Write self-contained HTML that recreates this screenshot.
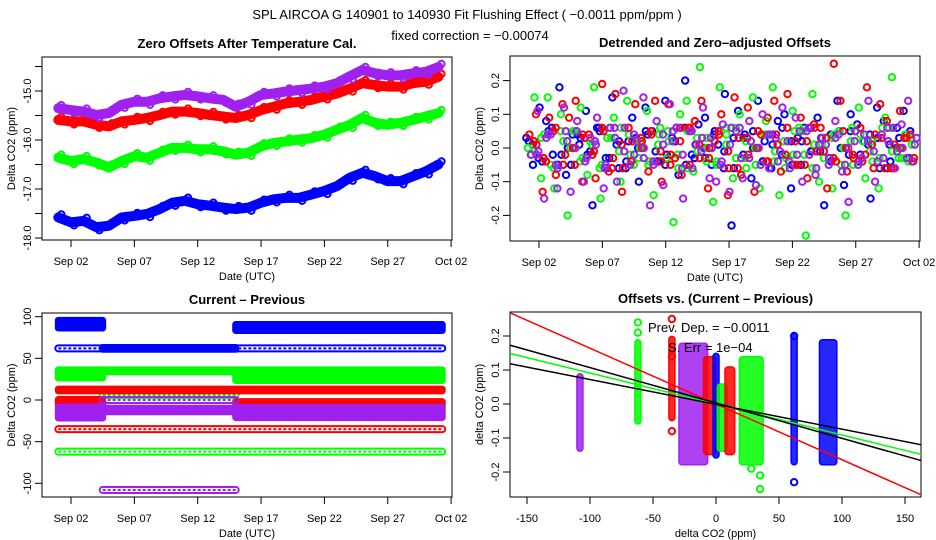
<!DOCTYPE html>
<html><head><meta charset="utf-8"><style>
body{margin:0;background:#fff;}
svg{display:block;font-family:"Liberation Sans",sans-serif;}
</style></head><body>
<svg id="chart" width="936" height="540" viewBox="0 0 936 540" xmlns="http://www.w3.org/2000/svg">
<text x="467" y="19" font-size="13" text-anchor="middle">SPL   AIRCOA G   140901 to 140930   Fit Flushing Effect ( −0.0011 ppm/ppm )</text>
<text x="470" y="40" font-size="13" text-anchor="middle">fixed correction = −0.00074</text>
</svg>
<script>
// ---------- DATA ----------
const seriesNames = ['blue','green','red','purple'];
const seriesColors = ['#0000ff','#00ff00','#ff0000','#a020f0'];
const dateTickDays = [2,7,12,17,22,27,32];
const dateTickLabels = ['Sep 02','Sep 07','Sep 12','Sep 17','Sep 22','Sep 27','Oct 02'];
// Panel 1: daily zero offsets (days 1..31)
const p1Days = [1,2,3,4,5,6,7,8,9,10,11,12,13,14,15,16,17,18,19,20,21,22,23,24,25,26,27,28,29,30,31];
const p1Blue = [-17.58,-17.68,-17.65,-17.78,-17.75,-17.58,-17.55,-17.51,-17.41,-17.28,-17.24,-17.31,-17.34,-17.38,-17.41,-17.38,-17.28,-17.21,-17.18,-17.18,-17.11,-17.04,-16.94,-16.77,-16.67,-16.74,-16.84,-16.84,-16.74,-16.64,-16.5];
const p1Green = [-16.36,-16.43,-16.39,-16.46,-16.56,-16.43,-16.33,-16.36,-16.26,-16.16,-16.16,-16.19,-16.19,-16.23,-16.30,-16.26,-16.13,-16.06,-16.03,-15.99,-15.96,-15.89,-15.79,-15.69,-15.55,-15.65,-15.69,-15.65,-15.59,-15.52,-15.45];
const p1Red = [-15.59,-15.62,-15.62,-15.69,-15.72,-15.62,-15.59,-15.55,-15.49,-15.42,-15.42,-15.45,-15.49,-15.52,-15.55,-15.49,-15.39,-15.32,-15.25,-15.22,-15.18,-15.11,-15.05,-14.95,-14.84,-14.88,-14.91,-14.91,-14.84,-14.81,-14.71];
const p1Purple = [-15.35,-15.39,-15.42,-15.49,-15.45,-15.28,-15.22,-15.22,-15.15,-15.11,-15.08,-15.11,-15.15,-15.18,-15.32,-15.22,-15.08,-15.05,-15.01,-14.98,-14.95,-14.91,-14.84,-14.70,-14.57,-14.64,-14.68,-14.68,-14.64,-14.61,-14.51];
const p1YTicks = [-14.5,-15,-15.5,-16,-16.5,-17,-17.5,-18];
const p1YLabels = ['','-15.0','','-16.0','','-17.0','','-18.0'];
// Panel 2: detrended residuals
const p2Blue = [0.03,-0.05,0.12,0.08,-0.02,0.18,-0.08,0.04,0.01,0.11,-0.17,0.06,-0.03,0.15,0.02,-0.06,0.09,-0.1,0.12,0.05,-0.04,0.14,0.03,-0.08,0.2,-0.02,0.07,0.09,-0.05,0.01,0.16,-0.23,0.11,0.04,-0.09,0.14,0.02,-0.06,0.08,0.1,-0.12,0.03,0.06,-0.01,0.09,-0.17,0.04,0.14,-0.11,0.1,0.07,0.02,-0.15,0.12,0.08,-0.04,0.06,0.11,0.05];
const p2Green = [0.0,0.15,-0.09,0.15,-0.12,0.1,-0.2,0.05,0.12,-0.08,0.18,-0.15,0.03,0.09,-0.1,0.14,-0.05,0.02,0.11,-0.14,0.06,-0.03,-0.22,0.1,0.14,-0.07,0.24,-0.04,-0.16,0.18,0.04,-0.09,0.1,-0.06,0.15,-0.12,0.08,0.18,-0.14,-0.03,0.11,0.06,-0.26,0.16,-0.1,0.03,-0.12,0.05,-0.2,0.06,0.12,-0.09,0.02,-0.12,0.09,0.21,-0.03,0.04,0.01];
const p2Red = [0.04,0.1,-0.13,0.09,-0.08,0.13,0.09,0.14,-0.1,0.04,-0.09,0.19,-0.07,0.16,-0.13,0.06,0.13,0.02,-0.07,0.14,-0.1,0.13,-0.03,-0.08,0.06,0.08,0.14,-0.12,0.02,0.1,-0.14,0.15,-0.08,0.12,-0.13,0.04,0.09,0.14,-0.07,0.16,-0.05,0.09,-0.09,0.07,0.06,-0.12,0.25,0.14,-0.07,-0.03,0.06,0.18,-0.06,0.13,0.08,-0.06,0.11,0.03,-0.04];
const p2Purple = [-0.02,0.11,-0.15,0.04,-0.12,0.12,-0.13,0.08,-0.1,0.03,0.09,-0.12,0.06,-0.1,0.17,-0.05,0.02,0.15,-0.17,0.08,-0.11,0.13,0.06,-0.15,0.05,0.01,0.12,-0.09,-0.1,0.07,-0.13,0.05,-0.09,0.08,-0.11,0.1,-0.06,0.03,0.12,-0.04,0.09,-0.1,0.06,-0.08,0.03,-0.05,0.08,-0.07,-0.16,0.05,-0.03,0.14,-0.1,0.04,0.02,-0.06,0.07,0.14,0.01];
const p2Core = [0.02,-0.03,0.05,-0.05,0.0,0.04,-0.02,0.06,-0.06,0.01,-0.04,0.03,0.05,-0.01,-0.05,0.02,0.06,-0.03,0.0,0.04,-0.06,0.03,-0.02,0.05,-0.04,0.01,0.06,-0.05,0.02,-0.01,0.03,-0.04,0.0,0.05,-0.02,0.04,-0.06,0.01,0.03,-0.03];
const p2Core2 = [-0.01,0.04,-0.06,0.02,0.05,-0.03,0.01,-0.05,0.03,0.06,-0.02,0.0,-0.04,0.04,0.02,-0.06,0.05,-0.01,0.03,-0.05,0.01,0.06,-0.03,0.0,0.04,-0.04,0.02,-0.02,0.05,-0.06,0.01,0.03,-0.05,0.02,0.04,-0.01,-0.03,0.06,0.0,-0.04];
const p2YTicks = [-0.2,-0.1,0,0.1,0.2];
const p2YLabels = ['-0.2','-0.1','0.0','0.1','0.2'];
// Panel 3: current - previous levels (segments)
const p3SegSeries = [0,0,0,0,1,1,1,1,1,2,2,2,2,3,3,3,3,3];
const p3SegStart  = [1,15.0,1,4.5,1,1,15.0,4.5,1,1,1,15.0,1,1,4.5,15.0,4.5,4.5];
const p3SegEnd    = [4.5,31.3,31.3,15.0,4.5,31.3,31.3,15.0,31.3,31.3,4.5,31.3,31.3,4.5,15.0,31.3,15.0,15.0];
const p3SegLevel  = [91,87,62,62,31,35,28,6,-62,12,-3,-5,-35,-15,-12,-15,0,-108];
const p3SegBand   = [8,6,0,1,8,1,8,0,0,1,6,5,0,12,3,11,0,0];
const p3YTicks = [-100,-50,0,50,100];
// Panel 4: offsets vs (current - previous) clusters
const p4ClusterSeries = [3,1,2,3,2,0,1,2,1,0,0];
const p4ClusterX  = [-108,-62,-35,-18,-5,0,5,11,28,62,89];
const p4ClusterW  = [0,0,0,18,5,0,3,3,14,0,9];
const p4ClusterLo = [-0.13,-0.05,-0.04,-0.17,-0.14,-0.15,-0.13,-0.14,-0.17,-0.17,-0.17];
const p4ClusterHi = [0.08,0.18,0.19,0.17,0.13,0.14,0.05,0.1,0.13,0.2,0.18];
const p4OutX = [-62,-62,-35,-35,35,35,28,62,62,-35];
const p4OutY = [0.21,0.24,0.25,-0.08,-0.25,-0.21,-0.19,-0.23,0.2,0.14];
const p4OutS = [1,1,2,2,1,1,1,0,0,2];
const p4XTicks = [-150,-100,-50,0,50,100,150];
const p4YTicks = [-0.2,-0.1,0,0.1,0.2];
const p4FitSlope = [-0.00164,-0.00091,-0.00104,-0.00073];
const p4FitIntercept = [0,0,0.003,-0.001];
const p4FitColor = ['#ff0000','#00ff00','#000000','#000000'];

// ---------- DRAW ----------
const svg = document.getElementById('chart');
const NS = 'http://www.w3.org/2000/svg';
function mk(tag, attrs, parent){const e=document.createElementNS(NS,tag);for(const k in attrs)e.setAttribute(k,attrs[k]);(parent||svg).appendChild(e);return e;}
function circ(g,x,y,c){const e=mk('circle',{cx:x,cy:y,r:3.2,fill:'none',stroke:c,'stroke-width':2},g);

return e;}

function panel(name,L,R,T,B,title,ylabel,xlabel){
  const g=mk('g',{});
  
  
  const r=mk('rect',{x:L,y:T,width:R-L,height:B-T,fill:'none',stroke:'#000','stroke-width':1},g);
  
  
  const t=mk('text',{x:(L+R)/2,y:T-9,'font-size':13,'font-weight':'bold','text-anchor':'middle'},g);t.textContent=title;
  
  
  const yl=mk('text',{x:0,y:0,'font-size':11,'text-anchor':'middle',transform:`translate(${L-27},${(T+B)/2}) rotate(-90)`},g);yl.textContent=ylabel;
  
  
  const xl=mk('text',{x:(L+R)/2,y:B+40,'font-size':11,'text-anchor':'middle'},g);xl.textContent=xlabel;
  
  
  return g;
}
function xAxis(g,ticks,labels,sx,B){
  ticks.forEach((v,i)=>{mk('line',{x1:sx(v),x2:sx(v),y1:B,y2:B+7,stroke:'#000'},g);
    const t=mk('text',{x:sx(v),y:B+25,'font-size':11,'text-anchor':'middle'},g);t.textContent=labels[i];
    
    });
}
function yAxis(g,ticks,labels,sy,L){
  ticks.forEach((v,i)=>{mk('line',{x1:L-7,x2:L,y1:sy(v),y2:sy(v),stroke:'#000'},g);
    if(labels[i]){const t=mk('text',{x:0,y:0,'font-size':11,'text-anchor':'middle',transform:`translate(${L-11},${sy(v)}) rotate(-90)`},g);t.textContent=labels[i];
    
    }});
}
function clip(g,id,L,R,T,B){const d=mk('clipPath',{id:id},g);mk('rect',{x:L,y:T,width:R-L,height:B-T},d);const c=mk('g',{'clip-path':`url(#${id})`},g);return c;}

// Panel 1
(function(){
  const L=42,R=452,T=57,B=240;
  const g=panel('zero-offsets-panel',L,R,T,B,'Zero Offsets After Temperature Cal.','Delta CO2 (ppm)','Date (UTC)');
  const sx=d=>71+(d-2)*12.67, sy=v=>91+(-15-v)*49;
  xAxis(g,dateTickDays,dateTickLabels,sx,B);
  yAxis(g,p1YTicks,p1YLabels,sy,L);
  [p1Blue,p1Green,p1Red,p1Purple].forEach((arr,si)=>{
    const c=seriesColors[si];
    const s=mk('g',{},g);
    
    
    mk('polyline',{points:arr.map((v,i)=>sx(p1Days[i])+','+sy(v)).join(' '),fill:'none',stroke:c,'stroke-width':10,'stroke-linejoin':'round','stroke-linecap':'round'},s);
    arr.forEach((v,i)=>{circ(s,sx(p1Days[i])+3,sy(v)+(i%2?3:-3),c);});
  });
})();

// Panel 2
(function(){
  const L=510,R=920,T=56,B=241;
  const g=panel('detrended-offsets-panel',L,R,T,B,'Detrended and Zero\u2013adjusted Offsets','Delta CO2 (ppm)','Date (UTC)');
  const sx=d=>539+(d-2)*12.67, sy=v=>148-v*337;
  xAxis(g,dateTickDays,dateTickLabels,sx,B);
  yAxis(g,p2YTicks,p2YLabels,sy,L);
  [p2Blue,p2Green,p2Red,p2Purple].forEach((arr,si)=>{
    const s=mk('g',{},g);
    
    
    const n=arr.length;
    const m=p2Core.length;
    p2Core.forEach((v,i)=>{circ(s,sx(1.2+i*30/(m-1)+si*0.2),sy(v*(si%2?-1:1)),seriesColors[si]);});
    p2Core2.forEach((v,i)=>{circ(s,sx(1.5+i*29.5/(m-1)+si*0.15),sy(v*(si%2?1:-1)),seriesColors[si]);});
    arr.forEach((v,i)=>{circ(s,sx(1+i*30.3/(n-1)+si*0.12),sy(v),seriesColors[si]);});
  });
})();

// Panel 3
(function(){
  const L=42,R=452,T=313,B=497;
  const g=panel('current-minus-previous-panel',L,R,T,B,'Current \u2013 Previous','Delta CO2 (ppm)','Date (UTC)');
  const sx=d=>71+(d-2)*12.67, sy=v=>400-v*0.833;
  xAxis(g,dateTickDays,dateTickLabels,sx,B);
  yAxis(g,p3YTicks,p3YTicks.map(String),sy,L);
  p3SegSeries.forEach((si,k)=>{
    const c=seriesColors[si];
    const s=mk('g',{},g);
    
    
    const x0=sx(p3SegStart[k]),x1=sx(p3SegEnd[k]),y=sy(p3SegLevel[k]),h=p3SegBand[k]*0.833;
    if(h>0){
      mk('rect',{x:x0-3,y:y-3.5-h/2,width:x1-x0+6,height:7+h,rx:3,fill:c,stroke:c,'stroke-width':1},s);
    } else {
      mk('rect',{x:x0-3,y:y-3,width:x1-x0+6,height:6,rx:3,fill:'none',stroke:c,'stroke-width':2},s);
      mk('line',{x1:x0,x2:x1,y1:y,y2:y,stroke:c,'stroke-width':2,'stroke-dasharray':'3 2'},s);
    }
  });
})();

// Panel 4
(function(){
  const L=510,R=921,T=312,B=497;
  const g=panel('offsets-vs-difference-panel',L,R,T,B,'Offsets vs. (Current \u2013 Previous)','delta CO2 (ppm)','delta CO2 (ppm)');
  const sx=v=>716+v*1.26, sy=v=>404-v*340;
  xAxis(g,p4XTicks,p4XTicks.map(String),sx,B);
  yAxis(g,p4YTicks,['-0.2','-0.1','0.0','0.1','0.2'],sy,L);
  p4ClusterX.forEach((xv,k)=>{
    const si=p4ClusterSeries[k],c=seriesColors[si];
    const s=mk('g',{},g);
    
    
    const x0=sx(xv-p4ClusterW[k]/2),x1=sx(xv+p4ClusterW[k]/2);
    mk('rect',{x:x0-3,y:sy(p4ClusterHi[k])-3,width:x1-x0+6,height:sy(p4ClusterLo[k])-sy(p4ClusterHi[k])+6,rx:3,fill:c,'fill-opacity':0.85,stroke:c,'stroke-width':1.5},s);
  });
  p4OutX.forEach((xv,k)=>circ(g,sx(xv),sy(p4OutY[k]),seriesColors[p4OutS[k]]));
  const c=clip(g,'p4clip',L,R,T,B);
  p4FitSlope.forEach((m,k)=>{
    const ln=mk('line',{x1:sx(-170),y1:sy(p4FitIntercept[k]+m*-170),x2:sx(170),y2:sy(p4FitIntercept[k]+m*170),stroke:p4FitColor[k],'stroke-width':1.5},c);
    
    
  });
  const t1=mk('text',{x:648,y:332,'font-size':13},g);t1.textContent='Prev. Dep. =  \u22120.0011';
  
  
  const t2=mk('text',{x:668,y:352,'font-size':13},g);t2.textContent='S. Err =  1e\u221204';
  
  
})();
</script>
</body></html>
